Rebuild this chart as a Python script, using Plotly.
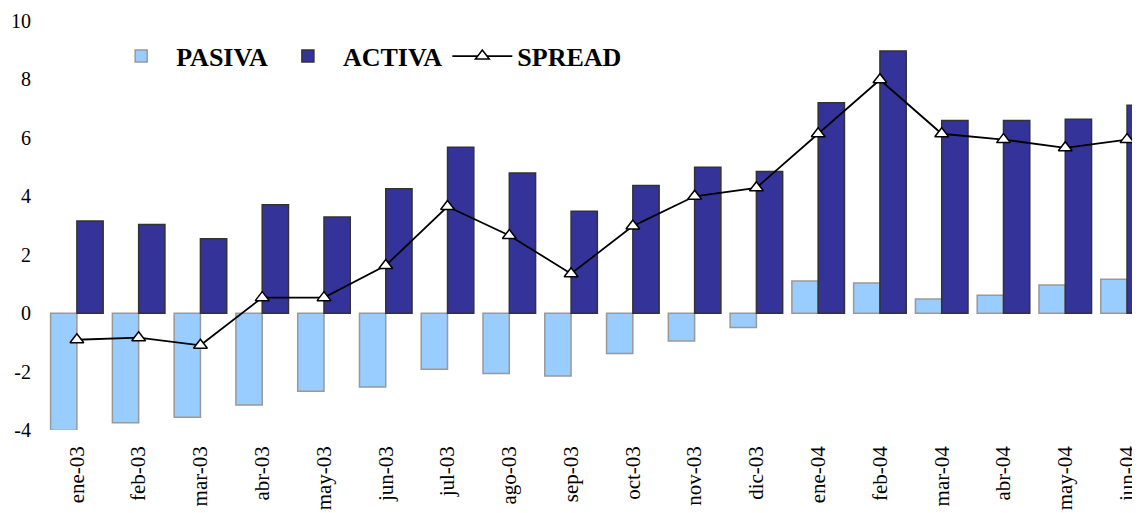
import plotly.graph_objects as go

categories = ["ene-03", "feb-03", "mar-03", "abr-03", "may-03", "jun-03", "jul-03", "ago-03", "sep-03",
              "oct-03", "nov-03", "dic-03", "ene-04", "feb-04", "mar-04", "abr-04", "may-04", "jun-04"]
pasiva = [-4.02, -3.75, -3.56, -3.14, -2.67, -2.53, -1.92, -2.07, -2.15,
          -1.38, -0.95, -0.49, 1.10, 1.03, 0.48, 0.61, 0.96, 1.16]
activa = [3.15, 3.03, 2.55, 3.71, 3.29, 4.26, 5.68, 4.80, 3.49,
          4.37, 4.99, 4.85, 7.20, 8.97, 6.59, 6.59, 6.64, 7.12]
spread = [-0.91, -0.84, -1.10, 0.53, 0.53, 1.63, 3.65, 2.66, 1.35,
          2.98, 4.00, 4.29, 6.14, 7.99, 6.14, 5.94, 5.66, 5.94]
y_ticks = [-4, -2, 0, 2, 4, 6, 8, 10]
y_tick_labels = [str(v) for v in y_ticks]

FONT = "Liberation Serif"

fig = go.Figure()
fig.add_trace(go.Bar(x=categories, y=pasiva, name="<b>PASIVA</b>",
                     marker=dict(color="#99CCFF", line=dict(color="#999999", width=1.5))))
fig.add_trace(go.Bar(x=categories, y=activa, name="<b>ACTIVA</b>",
                     marker=dict(color="#333399", line=dict(color="#333333", width=1.5))))
fig.add_trace(go.Scatter(x=categories, y=spread, name="<b>SPREAD</b>", mode="lines+markers",
                         line=dict(color="black", width=1.8),
                         marker=dict(symbol="triangle-up", size=12, color="white",
                                     line=dict(color="black", width=1.5))))

fig.update_layout(
    width=1132, height=505,
    margin=dict(l=38, r=0, t=13, b=83),
    paper_bgcolor="white", plot_bgcolor="white",
    barmode="group", bargap=0.149, bargroupgap=0,
    font=dict(family=FONT, size=20, color="black"),
    showlegend=True,
    legend=dict(orientation="h", x=0.055, xanchor="left", y=0.914, yanchor="middle",
                font=dict(family=FONT, size=26, color="black"),
                bgcolor="rgba(0,0,0,0)", itemwidth=60, tracegroupgap=0),
    xaxis=dict(range=[-0.5, 17.21], tickangle=-90, showgrid=False, zeroline=False,
               showline=False, ticks="", ticklabelstandoff=11,
               tickfont=dict(family=FONT, size=21)),
    yaxis=dict(range=[-4, 10], tickvals=y_ticks, ticktext=y_tick_labels,
               showgrid=False, zeroline=False,
               showline=False, ticks="", ticklabelstandoff=14,
               tickfont=dict(family=FONT, size=20)),
)

fig.write_html("out.html")
